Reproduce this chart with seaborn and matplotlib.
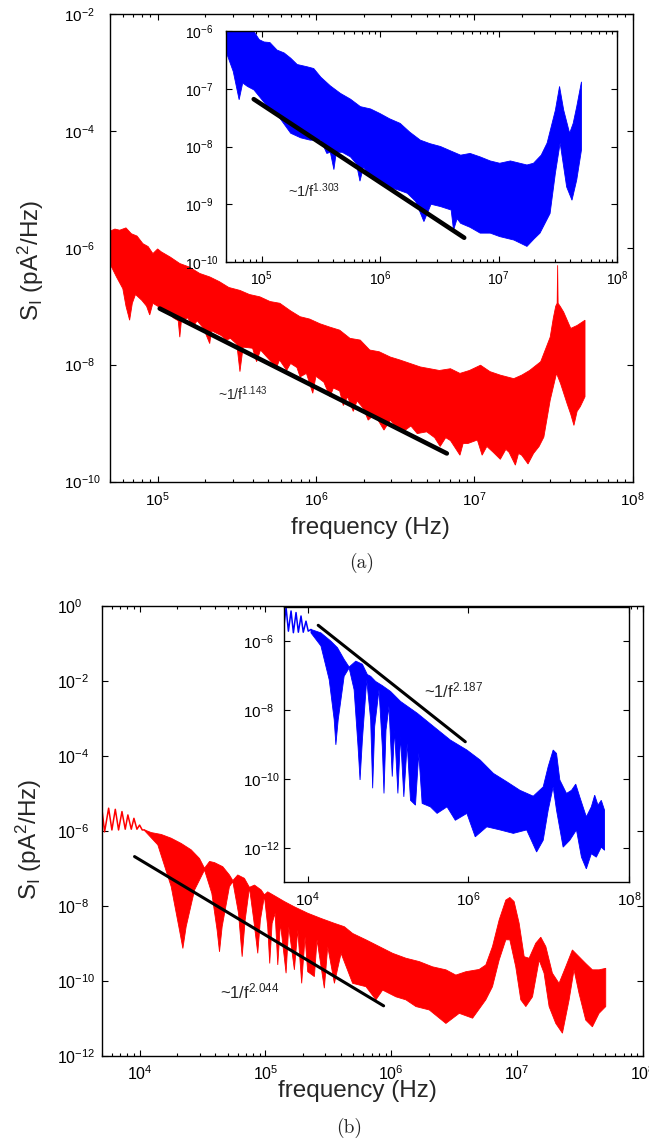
import numpy as np
import matplotlib
matplotlib.use("Agg")
import matplotlib.pyplot as plt
import seaborn as sns
from matplotlib.ticker import LogLocator, NullLocator, NullFormatter

# ---------------- data (log10 values) ----------------
# panel (a), main (red) : upper / lower envelope of the noise band
a_up_lf = [4.696, 4.73, 4.76, 4.80, 4.834, 4.87, 4.907, 4.94, 4.97, 5.0, 5.023, 5.08, 5.14, 5.20, 5.266,
           5.33, 5.39, 5.45, 5.52, 5.58, 5.646, 5.71, 5.772, 5.84, 5.90, 5.96, 6.025, 6.09, 6.15, 6.215,
           6.28, 6.34, 6.40, 6.47, 6.53, 6.595, 6.66, 6.72, 6.78, 6.85, 6.91, 6.97, 7.04, 7.10, 7.165,
           7.25, 7.30, 7.35, 7.42, 7.48, 7.50, 7.515, 7.524, 7.527, 7.530, 7.545, 7.565, 7.61, 7.65, 7.70]
a_up_ls = [-5.72, -5.68, -5.70, -5.66, -5.76, -5.80, -5.93, -5.98, -6.10, -6.02, -6.07, -6.16, -6.27, -6.33, -6.44,
           -6.50, -6.58, -6.68, -6.73, -6.80, -6.84, -6.92, -6.95, -7.08, -7.18, -7.22, -7.30, -7.36, -7.41, -7.55,
           -7.58, -7.75, -7.78, -7.87, -7.92, -7.98, -8.04, -8.07, -8.10, -8.07, -8.15, -8.10, -8.01, -8.12, -8.18,
           -8.24, -8.18, -8.10, -7.95, -7.53, -7.20, -7.00, -6.95, -6.30, -6.95, -7.01, -7.10, -7.38, -7.33, -7.24]
a_lo_lf = [4.696, 4.74, 4.78, 4.80, 4.823, 4.84, 4.86, 4.90, 4.93, 4.95, 4.97, 5.0, 5.055, 5.10, 5.13,
           5.14, 5.15, 5.19, 5.223, 5.25, 5.29, 5.329, 5.34, 5.40, 5.435, 5.46, 5.50, 5.52, 5.54, 5.60,
           5.625, 5.65, 5.69, 5.751, 5.77, 5.815, 5.84, 5.88, 5.90, 5.94, 5.98, 6.0, 6.05, 6.089, 6.11,
           6.15, 6.173, 6.20, 6.236, 6.26, 6.30, 6.33, 6.37, 6.43, 6.47, 6.50, 6.55, 6.60, 6.64, 6.70,
           6.75, 6.785, 6.82, 6.85, 6.91, 6.93, 6.96, 7.02, 7.05, 7.08, 7.12, 7.165, 7.20, 7.22, 7.26,
           7.28, 7.30, 7.34, 7.375, 7.41, 7.44, 7.48, 7.52, 7.545, 7.587, 7.61, 7.63, 7.65, 7.67, 7.70]
a_lo_ls = [-6.26, -6.50, -6.70, -7.00, -7.24, -6.95, -6.80, -6.90, -7.00, -7.15, -6.95, -7.00, -7.07, -7.20, -7.25,
           -7.53, -7.25, -7.20, -7.35, -7.25, -7.38, -7.64, -7.42, -7.50, -7.58, -7.55, -7.65, -8.12, -7.70, -7.72,
           -7.95, -7.75, -7.87, -8.05, -7.92, -8.10, -7.98, -8.05, -8.21, -8.15, -8.49, -8.20, -8.30, -8.55, -8.40,
           -8.45, -8.70, -8.55, -8.80, -8.62, -8.75, -8.95, -8.85, -9.12, -8.95, -9.05, -9.15, -9.05, -9.18, -9.15,
           -9.25, -9.40, -9.25, -9.30, -9.55, -9.35, -9.35, -9.29, -9.55, -9.40, -9.50, -9.62, -9.45, -9.50, -9.72,
           -9.52, -9.55, -9.70, -9.52, -9.40, -9.24, -8.61, -8.15, -8.32, -8.67, -8.85, -9.04, -8.80, -8.72, -8.55]

# panel (a), inset (blue)
ai_up_lf = [4.705, 4.85, 4.935, 4.98, 5.02, 5.07, 5.13, 5.19, 5.245, 5.30, 5.385, 5.44, 5.50, 5.58, 5.665,
            5.75, 5.834, 5.92, 6.00, 6.08, 6.17, 6.25, 6.34, 6.42, 6.51, 6.60, 6.68, 6.76, 6.845, 6.93,
            7.01, 7.10, 7.18, 7.24, 7.295, 7.36, 7.41, 7.48, 7.515, 7.55, 7.60, 7.63, 7.66, 7.70]
ai_up_ls = [-5.80, -5.85, -6.01, -6.15, -6.19, -6.20, -6.33, -6.38, -6.47, -6.58, -6.62, -6.65, -6.80, -6.95, -7.08,
            -7.18, -7.31, -7.35, -7.43, -7.52, -7.60, -7.75, -7.89, -7.95, -8.00, -8.08, -8.15, -8.12, -8.18, -8.25,
            -8.29, -8.25, -8.29, -8.32, -8.29, -8.15, -7.94, -7.37, -6.96, -7.37, -7.77, -7.60, -7.31, -6.88]
ai_lo_lf = [4.705, 4.76, 4.81, 4.84, 4.88, 4.935, 5.05, 5.15, 5.245, 5.33, 5.41, 5.50, 5.55, 5.58, 5.61,
            5.63, 5.68, 5.75, 5.80, 5.83, 5.86, 5.89, 5.97, 6.06, 6.15, 6.23, 6.30, 6.37, 6.43, 6.51,
            6.60, 6.62, 6.65, 6.68, 6.76, 6.845, 6.93, 7.01, 7.13, 7.24, 7.30, 7.35, 7.435, 7.48, 7.52,
            7.575, 7.62, 7.66, 7.70]
ai_lo_ls = [-6.39, -6.70, -7.19, -6.90, -6.96, -7.02, -7.31, -7.50, -7.77, -7.85, -7.89, -7.89, -8.12, -8.10, -8.40,
            -8.10, -8.10, -8.18, -8.30, -8.60, -8.35, -8.46, -8.55, -8.70, -8.75, -8.81, -8.95, -9.30, -9.00, -9.04,
            -9.10, -9.45, -9.25, -9.33, -9.40, -9.50, -9.50, -9.56, -9.62, -9.73, -9.60, -9.50, -9.16, -8.46, -7.94,
            -8.70, -8.93, -8.58, -8.06]

# panel (b), main (red): low-frequency oscillation, then band
b_osc_lf = [3.696, 3.722, 3.754, 3.78, 3.807, 3.833, 3.860, 3.886, 3.907, 3.934, 3.955, 3.979, 4.0, 4.021, 4.04]
b_osc_ls = [-5.29, -6.03, -5.40, -5.98, -5.43, -5.98, -5.49, -5.96, -5.58, -5.96, -5.67, -5.96, -5.85, -5.98, -5.98]
b_up_lf = [4.040, 4.093, 4.172, 4.251, 4.331, 4.410, 4.476, 4.516, 4.556, 4.595, 4.661, 4.714, 4.741, 4.780,
           4.833, 4.873, 4.913, 4.966, 4.992, 5.018, 5.085, 5.151, 5.230, 5.336, 5.442, 5.548, 5.627, 5.693,
           5.799, 5.905, 6.011, 6.116, 6.222, 6.328, 6.434, 6.513, 6.593, 6.698, 6.751, 6.804, 6.857, 6.910,
           6.942, 6.976, 7.016, 7.056, 7.095, 7.148, 7.188, 7.228, 7.280, 7.333, 7.386, 7.439, 7.492, 7.545,
           7.598, 7.651, 7.704]
b_up_ls = [-5.98, -6.05, -6.10, -6.20, -6.34, -6.51, -6.74, -7.00, -6.82, -6.85, -6.96, -7.18, -7.33, -7.18,
           -7.27, -7.51, -7.45, -7.58, -7.71, -7.63, -7.76, -7.89, -8.03, -8.20, -8.34, -8.47, -8.56, -8.74,
           -8.91, -9.09, -9.27, -9.40, -9.49, -9.63, -9.71, -9.85, -9.76, -9.70, -9.58, -9.09, -8.38, -7.85,
           -7.78, -7.89, -8.47, -9.36, -9.40, -9.00, -8.84, -9.09, -9.80, -10.07, -9.63, -9.18, -9.36, -9.54,
           -9.71, -9.71, -9.67]
b_lo_lf = [4.040, 4.145, 4.251, 4.317, 4.344, 4.370, 4.437, 4.516, 4.574, 4.616, 4.635, 4.656, 4.714, 4.741,
           4.786, 4.815, 4.839, 4.873, 4.907, 4.939, 4.960, 4.992, 5.018, 5.034, 5.053, 5.077, 5.098, 5.119,
           5.164, 5.185, 5.230, 5.257, 5.288, 5.315, 5.336, 5.389, 5.410, 5.468, 5.495, 5.548, 5.601, 5.693,
           5.799, 5.878, 5.931, 6.037, 6.116, 6.196, 6.302, 6.434, 6.540, 6.646, 6.751, 6.804, 6.857, 6.910,
           6.942, 6.989, 7.029, 7.069, 7.122, 7.175, 7.214, 7.254, 7.307, 7.360, 7.413, 7.452, 7.492, 7.545,
           7.598, 7.651, 7.704]
b_lo_ls = [-6.00, -6.38, -7.49, -8.65, -9.14, -8.56, -7.58, -7.05, -7.67, -8.65, -9.23, -8.56, -7.49, -7.36,
           -8.20, -9.36, -8.38, -7.52, -8.38, -9.27, -8.38, -7.74, -8.56, -9.54, -8.47, -8.20, -9.58, -8.47,
           -9.80, -8.56, -9.71, -8.65, -10.07, -8.83, -9.76, -9.89, -8.91, -10.20, -9.09, -10.07, -9.27, -10.07,
           -10.16, -10.51, -10.25, -10.43, -10.51, -10.69, -10.78, -11.14, -10.87, -11.00, -10.51, -10.16, -9.45, -8.91,
           -8.91, -9.63, -10.51, -10.69, -10.43, -9.45, -9.80, -10.69, -11.14, -11.40, -10.51, -9.71, -10.34, -11.05,
           -11.23, -10.87, -10.69]

# panel (b), inset (blue)
bi_osc_lf = [3.705, 3.731, 3.760, 3.793, 3.822, 3.855, 3.884, 3.917, 3.945, 3.979, 4.007, 4.041]
bi_osc_ls = [-5.55, -5.02, -5.71, -5.125, -5.755, -5.17, -5.74, -5.27, -5.74, -5.42, -5.71, -5.66]
bi_up_lf = [4.041, 4.165, 4.289, 4.371, 4.454, 4.516, 4.599, 4.681, 4.743, 4.784, 4.846, 4.929, 5.032, 5.156,
            5.363, 5.569, 5.776, 5.982, 6.147, 6.313, 6.478, 6.643, 6.808, 6.932, 6.994, 7.056, 7.098, 7.139,
            7.222, 7.284, 7.337, 7.387, 7.469, 7.531, 7.573, 7.614, 7.655, 7.696]
bi_up_ls = [-5.66, -5.76, -6.00, -6.19, -6.53, -6.75, -6.58, -6.67, -6.97, -7.02, -7.17, -7.29, -7.46, -7.75,
            -8.09, -8.48, -8.87, -9.16, -9.45, -9.84, -10.08, -10.33, -10.50, -10.23, -9.64, -9.16, -9.26, -10.03,
            -10.42, -10.33, -10.15, -10.52, -11.10, -10.81, -10.47, -10.76, -10.62, -10.91]
bi_lo_lf = [4.041, 4.165, 4.268, 4.330, 4.351, 4.380, 4.454, 4.516, 4.578, 4.627, 4.652, 4.681, 4.735, 4.784,
            4.809, 4.834, 4.888, 4.929, 4.950, 4.975, 5.012, 5.053, 5.082, 5.123, 5.156, 5.197, 5.239, 5.280,
            5.342, 5.383, 5.425, 5.528, 5.611, 5.735, 5.838, 5.982, 6.086, 6.230, 6.395, 6.560, 6.726, 6.850,
            6.932, 6.994, 7.056, 7.098, 7.180, 7.263, 7.346, 7.408, 7.469, 7.531, 7.593, 7.655, 7.696]
bi_lo_ls = [-5.76, -6.14, -7.12, -8.28, -9.01, -8.28, -7.02, -6.78, -7.41, -9.06, -10.03, -8.87, -7.12, -8.28,
            -10.27, -8.48, -7.41, -9.06, -10.42, -8.58, -7.89, -9.93, -8.58, -10.42, -8.77, -10.52, -8.97, -10.62,
            -10.76, -9.25, -10.71, -10.81, -11.00, -10.81, -11.20, -11.00, -11.68, -11.39, -11.48, -11.58, -11.48, -12.12,
            -11.78, -10.91, -10.23, -10.91, -11.98, -11.78, -11.48, -12.27, -12.61, -12.17, -12.27, -11.98, -12.07]

# power-law guide lines (endpoints, log10) and their labels
fit_a_lf, fit_a_ls = [5.013, 6.827], [-7.04, -9.52]
fit_ai_lf, fit_ai_ls = [4.933, 6.71], [-7.18, -9.58]
fit_b_lf, fit_b_ls = [3.96, 5.939], [-6.69, -10.67]
fit_bi_lf, fit_bi_ls = [4.131, 5.962], [-5.54, -8.92]
fit_labels = ["1.143", "1.303", "2.044", "2.187"]

# axis ticks
a_xticks = [1e5, 1e6, 1e7, 1e8]
a_yticks = [1e-10, 1e-8, 1e-6, 1e-4, 1e-2]
ai_yticks = [1e-10, 1e-9, 1e-8, 1e-7, 1e-6]
b_xticks = [1e4, 1e5, 1e6, 1e7, 1e8]
b_yticks = [1e-12, 1e-10, 1e-8, 1e-6, 1e-4, 1e-2, 1e0]
bi_xticks = [1e4, 1e6, 1e8]
bi_yticks = [1e-12, 1e-10, 1e-8, 1e-6]

# ---------------- style ----------------
sns.set_style("ticks")
plt.rcParams["font.family"] = ["Liberation Sans", "DejaVu Sans"]
plt.rcParams["mathtext.fontset"] = "custom"
plt.rcParams["mathtext.rm"] = "Liberation Sans"
plt.rcParams["mathtext.it"] = "Liberation Sans:italic"
plt.rcParams["mathtext.default"] = "regular"
plt.rcParams["axes.linewidth"] = 1.0

W, H = 649, 1141
fig = plt.figure(figsize=(W / 100, H / 100), dpi=100)


def box(l, t, r, b):
    return [l / W, 1 - b / H, (r - l) / W, (b - t) / H]


def P(v):
    return 10 ** np.asarray(v, dtype=float)


def style(ax, xlim, ylim, xticks, yticks, fs, ypad, xpad, xminor=True):
    ax.set_xscale("log")
    ax.set_yscale("log")
    ax.set_xlim(*xlim)
    ax.set_ylim(*ylim)
    ax.set_xticks(xticks)
    ax.set_yticks(yticks)
    if xminor:
        ax.xaxis.set_minor_locator(LogLocator(base=10, subs=np.arange(2, 10), numticks=100))
    else:
        ax.xaxis.set_minor_locator(NullLocator())
    ax.xaxis.set_minor_formatter(NullFormatter())
    ax.yaxis.set_minor_locator(NullLocator())
    ax.tick_params(which="both", direction="in", top=True, right=True, width=0.8, colors="black")
    ax.tick_params(which="major", length=4.5)
    ax.tick_params(which="minor", length=2.5)
    ax.tick_params(axis="y", pad=ypad, labelsize=fs)
    ax.tick_params(axis="x", pad=xpad, labelsize=fs)
    for lab in ax.get_yticklabels():
        lab.set_horizontalalignment("left")
    for s in ax.spines.values():
        s.set_visible(True)
        s.set_color("black")
        s.set_linewidth(1.0)
    ax.set_facecolor("white")
    ax.grid(False)


def band(ax, ulf, uls, llf, lls, color):
    xs = np.concatenate([P(ulf), P(llf)[::-1]])
    ys = np.concatenate([P(uls), P(lls)[::-1]])
    ax.fill(xs, ys, color=color, lw=0.6, zorder=2)


def guide(ax, lf, ls, lw):
    sns.lineplot(x=P(lf), y=P(ls), ax=ax, color="black", linewidth=lw, legend=False,
                 estimator=None, sort=False, zorder=3)


# ---------------- panel (a) ----------------
axA = fig.add_axes(box(110, 14, 632.5, 481.5))
style(axA, (5e4, 1e8), (1e-10, 1e-2), a_xticks, a_yticks, 11, 33.0, 6.5)
band(axA, a_up_lf, a_up_ls, a_lo_lf, a_lo_ls, "#ff0000")
guide(axA, fit_a_lf, fit_a_ls, 3.3)
axA.text(P(5.38), P(-8.61), "~1/f$^{" + fit_labels[0] + "}$", fontsize=10, ha="left", va="baseline")
axA.set_xlabel("")
axA.set_ylabel("")

axAi = fig.add_axes(box(226, 31, 617, 262))
style(axAi, (5e4, 1e8), (1e-10, 1e-6), a_xticks, ai_yticks, 10, 29.5, 5.5)
band(axAi, ai_up_lf, ai_up_ls, ai_lo_lf, ai_lo_ls, "#0000ff")
guide(axAi, fit_ai_lf, fit_ai_ls, 3.3)
axAi.text(P(5.222), P(-8.87), "~1/f$^{" + fit_labels[1] + "}$", fontsize=10.5, ha="left", va="baseline")
axAi.set_xlabel("")
axAi.set_ylabel("")

fig.text(370 / W, 1 - 528 / H, "frequency (Hz)", fontsize=17.5, ha="center", va="center")
fig.text(31 / W, 1 - 260 / H, "S$_{I}$ (pA$^{2}$/Hz)", fontsize=17.5, rotation=90, ha="center", va="center")
fig.text(362 / W, 1 - 563 / H, "(a)", fontsize=14, ha="center", va="center", family="cmr10")

# ---------------- panel (b) ----------------
axB = fig.add_axes(box(101.7, 605.7, 643, 1055.7))
style(axB, (5e3, 1e8), (1e-12, 1e0), b_xticks, b_yticks, 11.5, 32.0, 6.0)
sns.lineplot(x=P(b_osc_lf), y=P(b_osc_ls), ax=axB, color="#ff0000", linewidth=1.1, legend=False,
             estimator=None, sort=False, zorder=2)
band(axB, b_up_lf, b_up_ls, b_lo_lf, b_lo_ls, "#ff0000")
guide(axB, fit_b_lf, fit_b_ls, 2.2)
axB.text(P(4.635), P(-10.47), "~1/f$^{" + fit_labels[2] + "}$", fontsize=12, ha="left", va="baseline")
axB.set_xlabel("")
axB.set_ylabel("")

axBi = fig.add_axes(box(283.5, 606.7, 629, 882.3))
style(axBi, (5e3, 1e8), (1e-13, 1e-5), bi_xticks, bi_yticks, 11, 29.0, 6.0, xminor=False)
sns.lineplot(x=P(bi_osc_lf), y=P(bi_osc_ls), ax=axBi, color="#0000ff", linewidth=1.1, legend=False,
             estimator=None, sort=False, zorder=2)
band(axBi, bi_up_lf, bi_up_ls, bi_lo_lf, bi_lo_ls, "#0000ff")
guide(axBi, fit_bi_lf, fit_bi_ls, 2.2)
axBi.text(P(5.445), P(-7.62), "~1/f$^{" + fit_labels[3] + "}$", fontsize=12, ha="left", va="baseline")
axBi.set_xlabel("")
axBi.set_ylabel("")

fig.text(357 / W, 1 - 1091.5 / H, "frequency (Hz)", fontsize=17.5, ha="center", va="center")
fig.text(29 / W, 1 - 839 / H, "S$_{I}$ (pA$^{2}$/Hz)", fontsize=17.5, rotation=90, ha="center", va="center")
fig.text(349 / W, 1 - 1128 / H, "(b)", fontsize=14, ha="center", va="center", family="cmr10")

fig.savefig("out.png", dpi=100, facecolor="white")
